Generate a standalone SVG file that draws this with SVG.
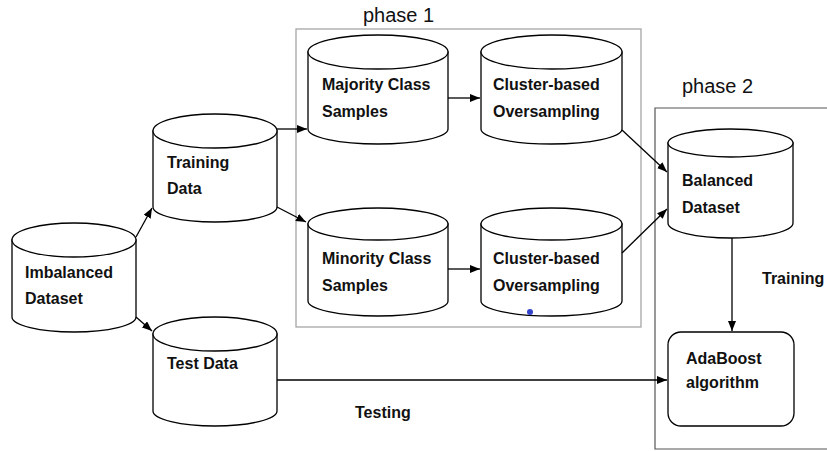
<svg xmlns="http://www.w3.org/2000/svg" width="827" height="451" viewBox="0 0 827 451">
<defs>
<marker id="ah" viewBox="0 0 10 8" refX="10" refY="4" markerWidth="10" markerHeight="8" markerUnits="userSpaceOnUse" orient="auto">
<path d="M0,0 L10,4 L0,8 Z" fill="#000"/>
</marker>
<style>
.cyl{fill:#fff;stroke:#000;stroke-width:1.3}
.lbl{font-family:"Liberation Sans",Arial,sans-serif;font-weight:bold;font-size:16px;fill:#111}
.ph{font-family:"Liberation Sans",Arial,sans-serif;font-size:20px;fill:#111}
.box{fill:none;stroke:#a6a6a6;stroke-width:1.3}
.box2{fill:none;stroke:#555;stroke-width:1.2}
.con{fill:none;stroke:#000;stroke-width:1.3;marker-end:url(#ah)}
</style>
</defs>
<rect width="827" height="451" fill="#fff"/>
<g id="phase1">
<rect class="box" x="296" y="29" width="345" height="298"/>
<text class="ph" x="363" y="22">phase 1</text>
</g>
<g id="phase2">
<path class="box2" d="M830,108 L655,108 L655,449 L830,449"/>
<text class="ph" x="682" y="93">phase 2</text>
</g>
<g id="imbalanced">
<path class="cyl" d="M12,240 L12,317 A62,15 0 0 0 136,317 L136,240 Z"/>
<ellipse class="cyl" cx="74" cy="240" rx="62" ry="17"/>
<text class="lbl" x="25" y="278">Imbalanced</text>
<text class="lbl" x="25" y="304">Dataset</text>
</g>
<g id="training">
<path class="cyl" d="M153,131 L153,207 A62,15 0 0 0 277,207 L277,131 Z"/>
<ellipse class="cyl" cx="215" cy="131" rx="62" ry="17"/>
<text class="lbl" x="167" y="168">Training</text>
<text class="lbl" x="167" y="194">Data</text>
</g>
<g id="test">
<path class="cyl" d="M153,334 L153,411 A62,15 0 0 0 277,411 L277,334 Z"/>
<ellipse class="cyl" cx="215" cy="334" rx="62" ry="17"/>
<text class="lbl" x="167" y="369">Test Data</text>
</g>
<g id="majority">
<path class="cyl" d="M308,52 L308,129 A70,15 0 0 0 448,129 L448,52 Z"/>
<ellipse class="cyl" cx="378" cy="52" rx="70" ry="17"/>
<text class="lbl" x="322" y="90">Majority Class</text>
<text class="lbl" x="322" y="117">Samples</text>
</g>
<g id="cluster1">
<path class="cyl" d="M481,52 L481,129 A70.5,15 0 0 0 622,129 L622,52 Z"/>
<ellipse class="cyl" cx="551.5" cy="52" rx="70.5" ry="17"/>
<text class="lbl" x="493" y="90">Cluster-based</text>
<text class="lbl" x="493" y="117">Oversampling</text>
</g>
<g id="minority">
<path class="cyl" d="M308,224 L308,301 A70,15 0 0 0 448,301 L448,224 Z"/>
<ellipse class="cyl" cx="378" cy="224" rx="70" ry="16"/>
<text class="lbl" x="322" y="264">Minority Class</text>
<text class="lbl" x="322" y="291">Samples</text>
</g>
<g id="cluster2">
<path class="cyl" d="M481,224 L481,301 A70.5,15 0 0 0 622,301 L622,224 Z"/>
<ellipse class="cyl" cx="551.5" cy="224" rx="70.5" ry="16"/>
<text class="lbl" x="493" y="264">Cluster-based</text>
<text class="lbl" x="493" y="291">Oversampling</text>
<circle cx="530" cy="312" r="3" fill="#3344cc"/>
</g>
<g id="balanced">
<path class="cyl" d="M668,143 L668,223 A62.5,15 0 0 0 793,223 L793,143 Z"/>
<ellipse class="cyl" cx="730.5" cy="143" rx="62.5" ry="14"/>
<text class="lbl" x="682" y="186">Balanced</text>
<text class="lbl" x="682" y="213">Dataset</text>
</g>
<g id="adaboost">
<rect class="cyl" x="668" y="332" width="126" height="94" rx="13"/>
<text class="lbl" x="686" y="364">AdaBoost</text>
<text class="lbl" x="686" y="388">algorithm</text>
</g>
<g id="connectors">
<line class="con" x1="136" y1="237" x2="152" y2="208"/>
<line class="con" x1="136" y1="317" x2="152" y2="331"/>
<line class="con" x1="277" y1="129" x2="307" y2="129"/>
<line class="con" x1="277" y1="207" x2="306" y2="222"/>
<line class="con" x1="448" y1="98" x2="480" y2="98"/>
<line class="con" x1="448" y1="269" x2="480" y2="269"/>
<line class="con" x1="622" y1="130" x2="667" y2="172"/>
<line class="con" x1="622" y1="253" x2="667" y2="209"/>
<line class="con" x1="732" y1="238" x2="732" y2="331"/>
<line class="con" x1="277" y1="380" x2="667" y2="380"/>
<text class="lbl" x="762" y="284">Training</text>
<text class="lbl" x="355" y="418">Testing</text>
</g>
</svg>
